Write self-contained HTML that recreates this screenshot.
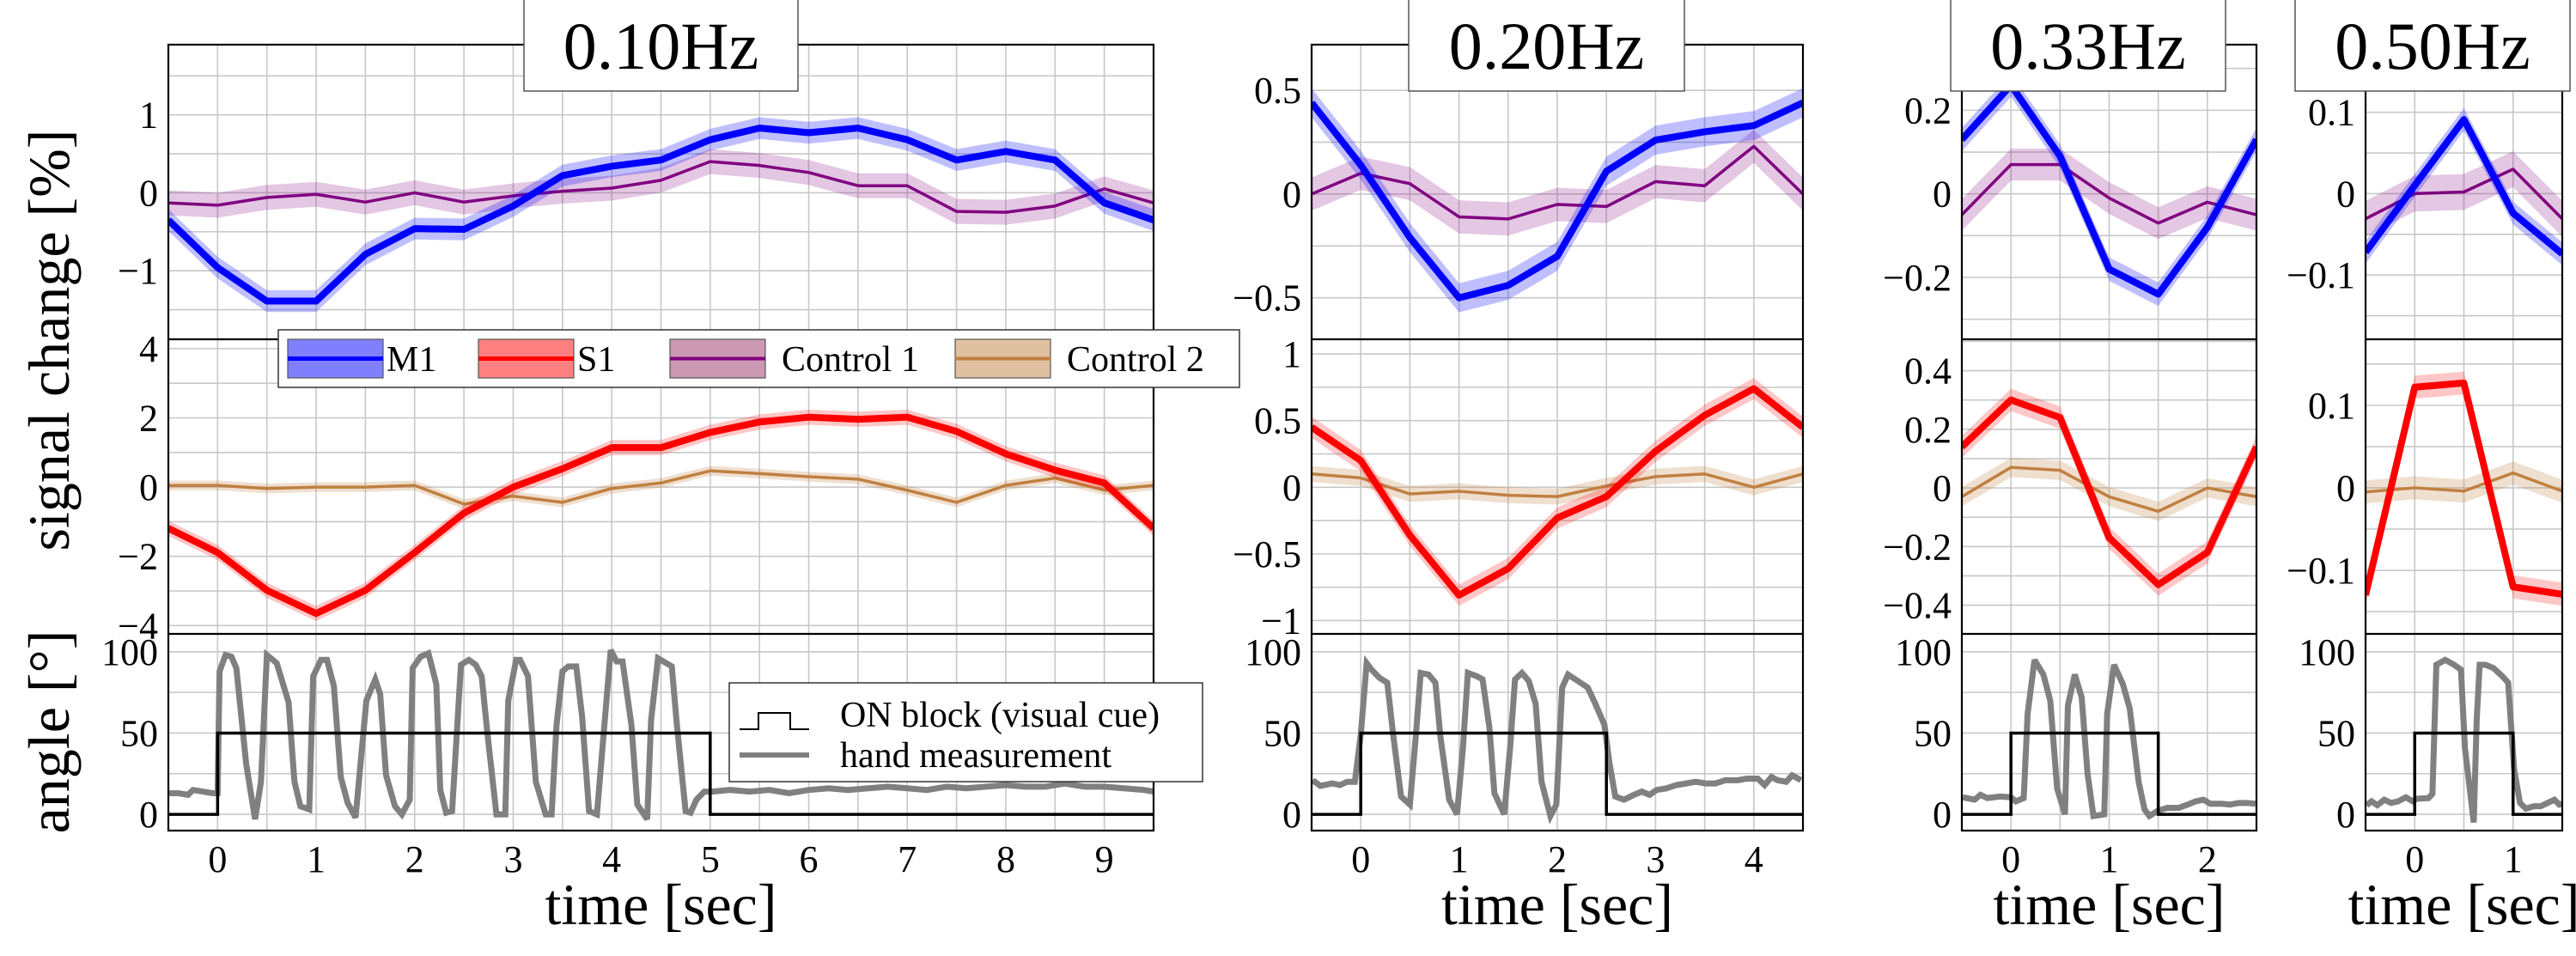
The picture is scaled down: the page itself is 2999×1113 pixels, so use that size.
<!DOCTYPE html>
<html><head><meta charset="utf-8"><style>
html,body{margin:0;padding:0;background:#fff;}
svg{display:block;font-family:"Liberation Serif",serif;}
</style></head><body>
<svg id="chart" width="2999" height="1113" viewBox="0 0 2999 1113" xmlns="http://www.w3.org/2000/svg"></svg>
<script>
// ---------- data ----------
const freqLabels = ["0.10Hz","0.20Hz","0.33Hz","0.50Hz"];
const onDuration = [5, 2.5, 1.5, 1];
const tStart = [-0.5, -0.5, -0.5, -0.5];
const tStep = [0.5, 0.5, 0.5, 0.5];
// panel 1 (0.10Hz)
const m1_p1 = [-0.35,-0.96,-1.39,-1.39,-0.79,-0.46,-0.47,-0.17,0.22,0.34,0.42,0.68,0.83,0.77,0.83,0.68,0.42,0.53,0.42,-0.13,-0.35];
const c1_p1 = [-0.13,-0.16,-0.06,-0.02,-0.12,0,-0.12,-0.04,0.02,0.06,0.16,0.40,0.35,0.26,0.09,0.09,-0.24,-0.25,-0.17,0.05,-0.13];
const s1_p1 = [-1.19,-1.89,-2.98,-3.65,-2.98,-1.89,-0.75,0,0.53,1.14,1.14,1.58,1.88,2.02,1.96,2.02,1.61,0.96,0.49,0.12,-1.19];
const c2_p1 = [0.05,0.05,-0.04,0,0,0.05,-0.49,-0.26,-0.44,-0.04,0.12,0.47,0.39,0.30,0.23,-0.09,-0.44,0.05,0.26,-0.09,0.05];
// panel 2 (0.20Hz)
const m1_p2 = [0.44,0.14,-0.21,-0.50,-0.44,-0.30,0.11,0.26,0.30,0.33,0.44];
const c1_p2 = [0,0.10,0.05,-0.11,-0.12,-0.05,-0.06,0.06,0.04,0.23,0];
const s1_p2 = [0.45,0.20,-0.36,-0.81,-0.61,-0.23,-0.07,0.27,0.54,0.74,0.45];
const c2_p2 = [0.10,0.07,-0.05,-0.03,-0.06,-0.07,0.01,0.08,0.10,0,0.10];
// panel 3 (0.33Hz)
const m1_p3 = [0.13,0.26,0.09,-0.18,-0.24,-0.08,0.13];
const c1_p3 = [-0.05,0.07,0.07,-0.01,-0.07,-0.02,-0.05];
const s1_p3 = [0.14,0.30,0.24,-0.17,-0.33,-0.22,0.14];
const c2_p3 = [-0.03,0.07,0.06,-0.03,-0.08,0,-0.03];
// panel 4 (0.50Hz)
const m1_p4 = [-0.072,0.01,0.091,-0.024,-0.074];
const c1_p4 = [-0.031,0,0.002,0.03,-0.031];
const s1_p4 = [-0.13,0.122,0.127,-0.12,-0.129];
const c2_p4 = [-0.005,0,-0.004,0.018,-0.004];
// hand measurement (time, angle)
const hand_t1 = [-0.5,-0.4,-0.3,-0.25,-0.15,-0.05,0,0.02,0.08,0.14,0.19,0.29,0.38,0.44,0.5,0.6,0.72,0.78,0.84,0.93,0.97,1.05,1.11,1.18,1.25,1.32,1.4,1.51,1.6,1.65,1.71,1.8,1.87,1.95,1.98,2.06,2.14,2.22,2.26,2.32,2.38,2.47,2.55,2.62,2.68,2.74,2.83,2.92,2.95,3.03,3.07,3.15,3.23,3.33,3.39,3.44,3.5,3.56,3.64,3.7,3.77,3.85,3.93,3.99,4.05,4.11,4.2,4.26,4.36,4.4,4.47,4.61,4.66,4.75,4.8,4.86,4.94,5.02,5.2,5.4,5.6,5.8,6,6.2,6.4,6.6,6.8,7,7.2,7.4,7.6,7.8,8,8.2,8.4,8.6,8.8,9,9.2,9.4,9.5];
const hand_v1 = [13,13,12,15,14,13,13,88,98,97,90,31,-3,20,98,93,69,20,5,3,85,95,95,79,23,7,-2,70,83,74,24,5,0,9,90,97,99,80,15,1,2,92,95,92,85,49,0,0,70,95,95,85,20,0,0,55,88,91,91,60,2,0,58,101,94,94,55,6,-3,58,96,91,56,2,1,9,14,14,15,14,15,13,15,16,15,16,17,16,15,17,16,17,18,17,17,19,17,17,16,15,14];
const hand_t2 = [-0.49,-0.41,-0.29,-0.21,-0.14,-0.06,0,0.06,0.11,0.19,0.27,0.33,0.41,0.5,0.56,0.61,0.69,0.76,0.81,0.9,0.98,1.04,1.09,1.18,1.24,1.31,1.36,1.46,1.52,1.57,1.64,1.71,1.78,1.84,1.93,1.99,2.05,2.11,2.21,2.31,2.38,2.48,2.53,2.59,2.68,2.78,2.86,2.94,3.01,3.11,3.21,3.31,3.41,3.51,3.61,3.71,3.84,3.93,4.04,4.11,4.18,4.24,4.33,4.39,4.48];
const hand_v2 = [21,17.5,19,18,20,20,49,93,89,84,81,49,11,6,48,87,86,81,48,9,0,41,87,85,83,53,13,0,41,83,87,82,68,20,-1,6,78,86,82,78,69,55,32,11,9,12,14,12,15,16,18,19,20,19,19,21,21,22,22,18,23,21,20,24,21];
const hand_t3 = [-0.49,-0.37,-0.31,-0.24,-0.11,0,0.05,0.13,0.17,0.24,0.33,0.4,0.47,0.55,0.58,0.65,0.72,0.78,0.84,0.95,0.98,1.05,1.14,1.21,1.3,1.36,1.41,1.49,1.59,1.71,1.8,1.88,1.96,2.03,2.15,2.23,2.32,2.41,2.49];
const hand_v3 = [10.5,9,12,10,11,10.5,8,10,62,95,86,70,16,0,67,86,72,25,-1,0,62,92,80,65,20,3,-1,2,4,4,6,8,9,6.5,6.5,6,7,7,6.5];
const hand_t4 = [-0.49,-0.44,-0.38,-0.31,-0.24,-0.17,-0.09,-0.02,0.02,0.14,0.18,0.22,0.31,0.4,0.47,0.51,0.6,0.63,0.66,0.72,0.8,0.89,0.95,1.01,1.07,1.13,1.21,1.28,1.42,1.47,1.5];
const hand_v4 = [5.6,8,5.6,9,7,8,10.5,8,9.6,10,12.6,92,95,92,89,41,-5,58,92,92,90,85,81,28,7,3.5,5,5,9,6,6.5];
const xTicks1 = [0,1,2,3,4,5,6,7,8,9];
const xTicks2 = [0,1,2,3,4];
const xTicks3 = [0,1,2];
const xTicks4 = [0,1];
const topTicks = [[1,0,-1],[0.5,0,-0.5],[0.2,0,-0.2],[0.1,0,-0.1]];
const midTicks = [[4,2,0,-2,-4],[1,0.5,0,-0.5,-1],[0.4,0.2,0,-0.2,-0.4],[0.1,0,-0.1]];
const angTicks = [100,50,0];

// ---------- layout ----------
const rows = {top:[52,395], mid:[395,738], bot:[738,967]};
const panels = [
 {x0:196,x1:1343,xmin:-0.5,xmax:9.5,top:[-1.88,1.9,0.5],mid:[-4.24,4.27,1],title:[610,929],xt:xTicks1,
  m1:m1_p1,c1:c1_p1,s1:s1_p1,c2:c2_p1,ht:hand_t1,hv:hand_v1,bm:0.14,bc:0.16,bs:0.22,bc2:0.14},
 {x0:1527,x1:2099,xmin:-0.5,xmax:4.5,top:[-0.70,0.72,0.25],mid:[-1.10,1.11,0.25],title:[1640,1961],xt:xTicks2,
  m1:m1_p2,c1:c1_p2,s1:s1_p2,c2:c2_p2,ht:hand_t2,hv:hand_v2,bm:0.07,bc:0.08,bs:0.08,bc2:0.06},
 {x0:2284,x1:2627,xmin:-0.5,xmax:2.5,top:[-0.348,0.357,0.1],mid:[-0.498,0.507,0.1],title:[2271,2591],xt:xTicks3,
  m1:m1_p3,c1:c1_p3,s1:s1_p3,c2:c2_p3,ht:hand_t3,hv:hand_v3,bm:0.028,bc:0.038,bs:0.038,bc2:0.033},
 {x0:2754,x1:2983,xmin:-0.5,xmax:1.5,top:[-0.179,0.183,0.05],mid:[-0.177,0.18,0.05],title:[2672,2992],xt:xTicks4,
  m1:m1_p4,c1:c1_p4,s1:s1_p4,c2:c2_p4,ht:hand_t4,hv:hand_v4,bm:0.014,bc:0.022,bs:0.014,bc2:0.014}
];
const NS="http://www.w3.org/2000/svg";
const svg=document.getElementById('chart');
function mk(tag,attrs,parent){const e=document.createElementNS(NS,tag);for(const k in attrs)e.setAttribute(k,attrs[k]);(parent||svg).appendChild(e);return e;}
function fmt(v){let s=String(v);return v<0?'\u2212'+s.slice(1):s;}

panels.forEach((p,i)=>{
  const g=mk('g',{});
  
  
  const X=t=>p.x0+(t-p.xmin)/(p.xmax-p.xmin)*(p.x1-p.x0);
  const mkY=(row,rng)=>v=>rows[row][1]-(v-rng[0])/(rng[1]-rng[0])*(rows[row][1]-rows[row][0]);
  const Yt=mkY('top',p.top), Ym=mkY('mid',p.mid), Yb=mkY('bot',[-10,111]);
  const grid=mk('g',{stroke:'#c8c8c8','stroke-width':1.6},g);
  
  
  for(let t=Math.ceil(p.xmin*2)/2;t<=p.xmax+1e-9;t+=0.5){mk('line',{x1:X(t),x2:X(t),y1:rows.top[0],y2:rows.bot[1]},grid);}
  [['top',p.top,Yt],['mid',p.mid,Ym]].forEach(([r,rng,Y])=>{
    const st=rng[2];for(let v=Math.ceil(rng[0]/st)*st;v<=rng[1];v+=st){mk('line',{x1:p.x0,x2:p.x1,y1:Y(v),y2:Y(v)},grid);}
  });
  for(let v=0;v<=100;v+=25){mk('line',{x1:p.x0,x2:p.x1,y1:Yb(v),y2:Yb(v)},grid);}
  ['top','mid','bot'].forEach(r=>{const c=mk('clipPath',{id:'c'+i+r},g);mk('rect',{x:p.x0,y:rows[r][0],width:p.x1-p.x0,height:rows[r][1]-rows[r][0]},c);});
  function series(vals,Y,band,color,alpha,w,row,name){
    const pts=vals.map((v,k)=>[X(tStart[i]+k*tStep[i]),v]);
    const sg=mk('g',{'clip-path':'url(#c'+i+row+')'},g);
    
    
    const up=pts.map(q=>q[0]+','+Y(q[1]+band)).join(' ');
    const dn=pts.slice().reverse().map(q=>q[0]+','+Y(q[1]-band)).join(' ');
    const b=mk('polygon',{points:up+' '+dn,fill:color,'fill-opacity':alpha},sg);
    
    
    const l=mk('polyline',{points:pts.map(q=>q[0]+','+Y(q[1])).join(' '),fill:'none',stroke:color,'stroke-width':w,'stroke-linejoin':'round'},sg);
    
    
  }
  series(p.c1,Yt,p.bc,'#800080',0.22,3.5,'top','control1-series');
  series(p.m1,Yt,p.bm,'#0000ff',0.25,8,'top','m1-series');
  series(p.c2,Ym,p.bc2,'#c08040',0.25,3.5,'mid','control2-series');
  series(p.s1,Ym,p.bs,'#ff0000',0.22,8,'mid','s1-series');
  const hg=mk('g',{'clip-path':'url(#c'+i+'bot)'},g);
  
  
  const hl=mk('polyline',{points:p.ht.map((t,k)=>X(t)+','+Yb(p.hv[k])).join(' '),fill:'none',stroke:'#808080','stroke-width':7,'stroke-linejoin':'miter','stroke-miterlimit':3},hg);
  
  
  const d=onDuration[i];
  const ob=mk('polyline',{points:[X(p.xmin),Yb(0),X(0),Yb(0),X(0),Yb(50),X(d),Yb(50),X(d),Yb(0),X(p.xmax),Yb(0)].join(' '),fill:'none',stroke:'#000','stroke-width':3.5},hg);
  
  
  const fr=mk('g',{fill:'none',stroke:'#000','stroke-width':2.2},g);
  
  
  mk('rect',{x:p.x0,y:rows.top[0],width:p.x1-p.x0,height:rows.bot[1]-rows.top[0]},fr);
  mk('line',{x1:p.x0,x2:p.x1,y1:rows.mid[0],y2:rows.mid[0]},fr);
  mk('line',{x1:p.x0,x2:p.x1,y1:rows.bot[0],y2:rows.bot[0]},fr);
  const tl=mk('g',{'font-size':44,'text-anchor':'end',fill:'#000'},g);
  
  
  topTicks[i].forEach(v=>{const t=mk('text',{x:p.x0-12,y:Yt(v)+15},tl);t.textContent=fmt(v);});
  midTicks[i].forEach(v=>{const t=mk('text',{x:p.x0-12,y:Ym(v)+15},tl);t.textContent=fmt(v);});
  angTicks.forEach(v=>{const t=mk('text',{x:p.x0-12,y:Yb(v)+15},tl);t.textContent=fmt(v);});
  const xl=mk('g',{'font-size':44,'text-anchor':'middle'},g);
  
  
  p.xt.forEach(v=>{const t=mk('text',{x:X(v),y:1015},xl);t.textContent=v;});
  const xt=mk('text',{x:(p.x0+p.x1)/2,y:1076,'font-size':68,'text-anchor':'middle'},g);
  xt.textContent='time [sec]';
  
  
  const tg=mk('g',{},g);
  
  
  mk('rect',{x:p.title[0],y:-2,width:p.title[1]-p.title[0],height:108,fill:'#fff',stroke:'#555','stroke-width':1.5},tg);
  const tt=mk('text',{x:(p.title[0]+p.title[1])/2,y:80,'font-size':78,'text-anchor':'middle'},tg);
  tt.textContent=freqLabels[i];
});

const yl1=mk('text',{x:0,y:0,'font-size':68,'text-anchor':'middle',transform:'translate(80,396) rotate(-90)'});
yl1.textContent='signal change [%]';


const yl2=mk('text',{x:0,y:0,'font-size':68,'text-anchor':'middle',transform:'translate(80,852) rotate(-90)'});
yl2.textContent='angle [°]';



const lg=mk('g',{});


mk('rect',{x:324,y:384,width:1119,height:67,fill:'#fff',stroke:'#333','stroke-width':1.5},lg);
const legNames=['M1','S1','Control 1','Control 2'];
const legFill=['#8080ff','#ff8080','#cc99b3','#dfc0a0'];
const legLine=['#0000ff','#ff0000','#800080','#c08040'];
const legX=[335,557,780,1112];
legNames.forEach((n,k)=>{
  const e=mk('g',{},lg);
  
  
  mk('rect',{x:legX[k],y:395,width:111,height:45,fill:legFill[k],stroke:'#555','stroke-width':1.2},e);
  mk('line',{x1:legX[k],x2:legX[k]+111,y1:417.5,y2:417.5,stroke:legLine[k],'stroke-width':k<2?5:4},e);
  const t=mk('text',{x:legX[k]+(k<2?115:130),y:432,'font-size':42},e);
  t.textContent=n;
});
const lg2=mk('g',{});


mk('rect',{x:849,y:795,width:551,height:115,fill:'#fff',stroke:'#333','stroke-width':1.5},lg2);
mk('polyline',{points:'861,849 883,849 883,830 920,830 920,849 942,849',fill:'none',stroke:'#000','stroke-width':2},lg2);
mk('line',{x1:861,x2:942,y1:879,y2:879,stroke:'#808080','stroke-width':6},lg2);
const a1=mk('text',{x:978,y:846,'font-size':42},lg2);a1.textContent='ON block (visual cue)';
const a2=mk('text',{x:978,y:893,'font-size':42},lg2);a2.textContent='hand measurement';
</script>
</body></html>
